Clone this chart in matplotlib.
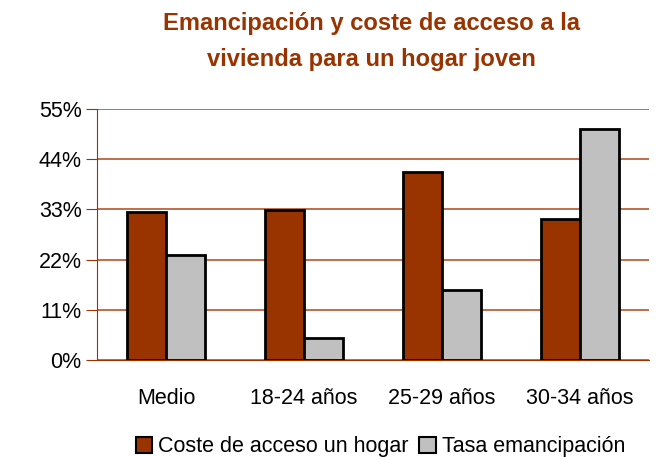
import numpy as np
import matplotlib.pyplot as plt
from matplotlib.patches import Patch

plt.rcParams['font.family'] = ['Liberation Sans', 'DejaVu Sans']

categorias = ['Medio', '18-24 años', '25-29 años', '30-34 años']
coste = [32.5, 32.8, 41.2, 30.9]
tasa = [23.0, 4.9, 15.3, 50.7]
yticks = [0, 11, 22, 33, 44, 55]

rojo = '#993300'
gris = '#C0C0C0'

fig = plt.figure(figsize=(6.64, 4.57), dpi=100)
ax = fig.add_axes([97 / 664, 1 - 360 / 457, (649 - 97) / 664, (360 - 109) / 457])

x = np.arange(len(categorias))
w = 0.285
ax.bar(x - w / 2, coste, w, color=rojo, edgecolor='black', linewidth=2, zorder=3)
ax.bar(x + w / 2, tasa, w, color=gris, edgecolor='black', linewidth=2, zorder=3)

ax.set_xlim(-0.5, 3.5)
ax.set_ylim(0, 55)
ax.set_yticks(yticks)
ax.set_yticklabels([f'{v}%' for v in yticks], fontsize=15.5)
ax.set_xticks(x)
ax.set_xticklabels(categorias, fontsize=15.5)
ax.tick_params(axis='x', length=0, pad=20)
ax.tick_params(axis='y', length=8, color=rojo, pad=3)
ax.grid(axis='y', color='#B5552A', linewidth=1.2, zorder=0)

for s in ['top', 'right']:
    ax.spines[s].set_visible(False)
ax.spines['left'].set_color(rojo)
ax.spines['bottom'].set_color(rojo)

fig.text(0.56, 0.973, 'Emancipación y coste de acceso a la\nvivienda para un hogar joven',
         ha='center', va='top', fontsize=17.1, fontweight='bold', color=rojo,
         linespacing=1.68)

handles = [Patch(facecolor=rojo, edgecolor='black', linewidth=1.5),
           Patch(facecolor=gris, edgecolor='black', linewidth=1.5)]
fig.legend(handles, ['Coste de acceso un hogar', 'Tasa emancipación'],
           loc='center', bbox_to_anchor=(0.573, 0.022), ncol=2, frameon=False,
           fontsize=15.5, handlelength=0.75, handleheight=0.75, handletextpad=0.3,
           columnspacing=0.5, borderpad=0)

fig.savefig('out.png', dpi=100)
